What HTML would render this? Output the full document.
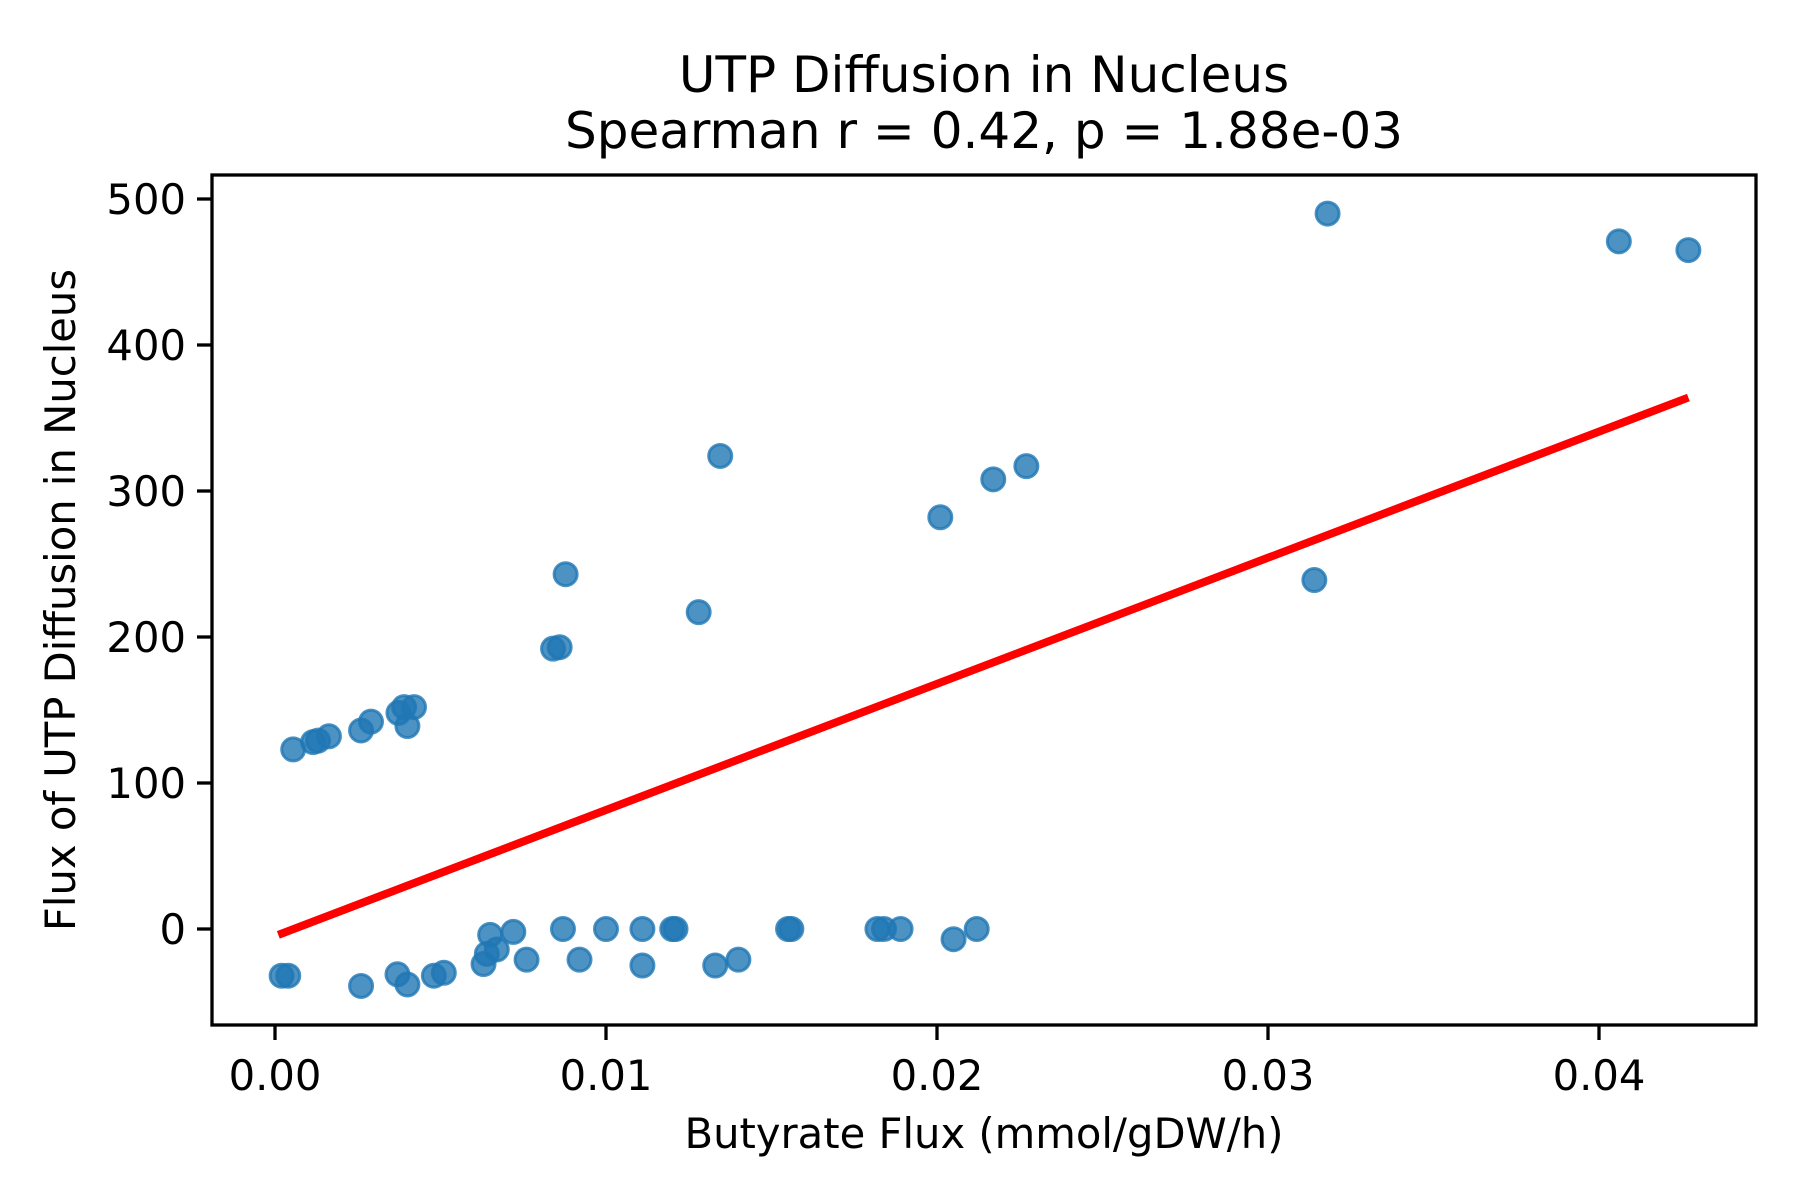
<!DOCTYPE html>
<html><head><meta charset="utf-8"><style>body{margin:0;background:#fff}svg{display:block}text{font-family:"DejaVu Sans","Liberation Sans",sans-serif;fill:#000}</style></head>
<body>
<svg id="chart" width="1800" height="1200" viewBox="0 0 1800 1200" xmlns="http://www.w3.org/2000/svg">
<rect width="1800" height="1200" fill="#fff"/>
<text x="984" y="92" font-size="50" text-anchor="middle">UTP Diffusion in Nucleus</text>
<text x="984" y="148" font-size="50" text-anchor="middle">Spearman r = 0.42, p = 1.88e-03</text>
<g id="marks"></g>
<rect x="212" y="175" width="1544" height="850" fill="none" stroke="#000" stroke-width="3.3"/>
<g id="ticks"></g>
<text x="984" y="1148" font-size="41.7" text-anchor="middle">Butyrate Flux (mmol/gDW/h)</text>
<text transform="translate(75,600) rotate(-90)" font-size="41.7" text-anchor="middle">Flux of UTP Diffusion in Nucleus</text>
</svg>
<script>
const xs=[0.0318,0.0406,0.0427,0.01345,0.0217,0.0227,0.0201,0.0314,0.00878,0.0128,0.0084,0.0086,0.00055,0.00115,0.0013,0.00163,0.0026,0.0029,0.00373,0.0039,0.0042,0.0040,0.0002,0.0004,0.0026,0.0037,0.0040,0.0048,0.0051,0.0063,0.0064,0.0065,0.0067,0.0072,0.0076,0.0087,0.0092,0.0100,0.0111,0.0111,0.0120,0.0121,0.0133,0.0140,0.0155,0.0156,0.0182,0.0184,0.0189,0.0205,0.0212];
const ys=[490,471,465,324,308,317,282,239,243,217,192,193,123,128,129,132,136,142,148,152,152,139,-32,-32,-39,-31,-38,-32,-30,-24,-17,-4,-14,-2,-21,0,-21,0,0,-25,0,0,-25,-21,0,0,0,0,0,-7,0];
const fitX=[0.0001,0.0427];
const fitY=[-4,364];
const xTicks=[0,0.01,0.02,0.03,0.04];
const xTickLabels=["0.00","0.01","0.02","0.03","0.04"];
const yTicks=[0,100,200,300,400,500];
const yTickLabels=["0","100","200","300","400","500"];
const NS="http://www.w3.org/2000/svg";
const X=v=>275+v*33100;
const Y=v=>929-v*1.46;
const marks=document.getElementById('marks');
const ticks=document.getElementById('ticks');
function mk(tag,attrs,parent){const e=document.createElementNS(NS,tag);for(const k in attrs)e.setAttribute(k,attrs[k]);parent.appendChild(e);return e;}
xs.forEach((x,i)=>{
 const c=mk('circle',{cx:X(x),cy:Y(ys[i]),r:11.5,fill:'#1f77b4','fill-opacity':0.8,stroke:'#1f77b4','stroke-opacity':0.8,'stroke-width':3},marks);
 
 
});
const ln=mk('line',{x1:X(fitX[0]),y1:Y(fitY[0]),x2:X(fitX[1]),y2:Y(fitY[1]),stroke:'#ff0000','stroke-width':8},marks);


xTicks.forEach((v,i)=>{
 const t=mk('line',{x1:X(v),x2:X(v),y1:1025,y2:1040,stroke:'#000','stroke-width':3.3},ticks);
 
 
 const l=mk('text',{x:X(v),y:1090,'font-size':41.7,'text-anchor':'middle'},ticks);
 l.textContent=xTickLabels[i];
 
 
});
yTicks.forEach((v,i)=>{
 const t=mk('line',{x1:197,x2:212,y1:Y(v),y2:Y(v),stroke:'#000','stroke-width':3.3},ticks);
 
 
 const l=mk('text',{x:186,y:Y(v)+15,'font-size':41.7,'text-anchor':'end'},ticks);
 l.textContent=yTickLabels[i];
 
 
});
</script>
</body></html>
